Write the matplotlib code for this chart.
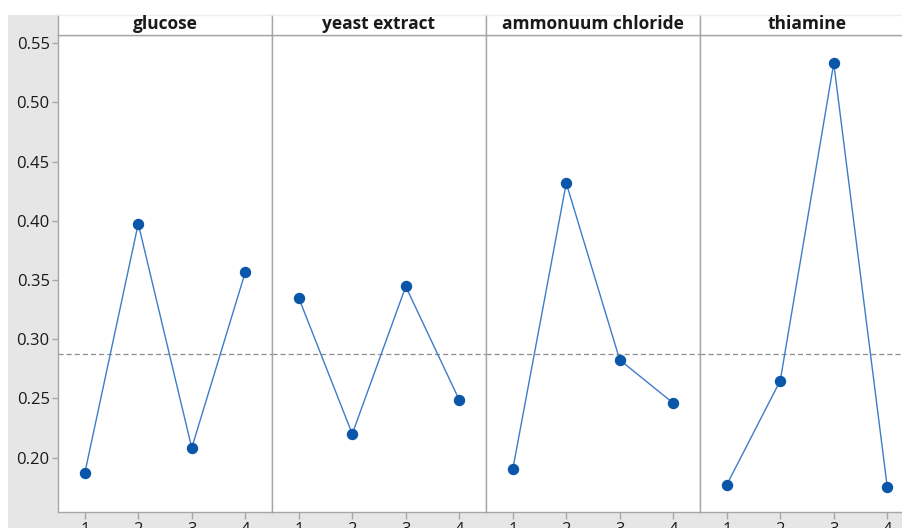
import matplotlib
matplotlib.use("Agg")
import matplotlib.pyplot as plt
from matplotlib.patches import Rectangle

factors = ["glucose", "yeast extract", "ammonuum chloride", "thiamine"]
levels = [1, 2, 3, 4]
glucose = [0.1868, 0.3975, 0.2082, 0.3565]
yeast_extract = [0.3349, 0.2200, 0.3445, 0.2487]
ammonium_chloride = [0.1901, 0.4318, 0.2825, 0.2460]
thiamine = [0.1770, 0.2650, 0.5330, 0.1752]
series = [glucose, yeast_extract, ammonium_chloride, thiamine]
grand_mean = 0.2873
y_ticks = [0.20, 0.25, 0.30, 0.35, 0.40, 0.45, 0.50, 0.55]

W, H = 903, 528
fig = plt.figure(figsize=(W / 100, H / 100), dpi=100)
fig.patch.set_facecolor("white")

FONT = ["Open Sans", "DejaVu Sans"]
GRID = "#a6a6a6"
TXT = "#1a1a1a"

# gray background region
fig.patches.append(Rectangle((8 / W, 0), 1, 1 - 15 / H, transform=fig.transFigure,
                             facecolor="#e6e6e6", edgecolor="none", zorder=-10))

left0 = 58
pw = 214
top_plot = 35
bot_plot = 512
head_top = 15

for i, (name, vals) in enumerate(zip(factors, series)):
    x0 = left0 + i * pw
    ax = fig.add_axes([x0 / W, (H - bot_plot) / H, pw / W, (bot_plot - top_plot) / H])
    ax.set_facecolor("white")
    ax.set_xlim(0.5, 4.5)
    ax.set_ylim(0.1541, 0.5568)
    ax.axhline(grand_mean, color="#8c8c8c", lw=0.9, ls=(0, (4, 2.5)), zorder=1)
    ax.plot(levels, vals, color="#3d7cc9", lw=1.0, zorder=2)
    ax.plot(levels, vals, "o", color="#0a56a8", ms=7.2, mec="#0a56a8", zorder=3)
    for s in ax.spines.values():
        s.set_color(GRID)
        s.set_linewidth(1.0)
    if i == len(factors) - 1:
        ax.spines["right"].set_visible(False)
    ax.set_xticks(levels)
    ax.set_xticklabels([str(v) for v in levels], fontfamily=FONT, fontsize=12, color=TXT)
    ax.tick_params(axis="x", length=5, width=1, color=GRID, pad=2)
    if i == 0:
        ax.set_yticks(y_ticks)
        ax.set_yticklabels([f"{v:.2f}" for v in y_ticks], fontfamily=FONT, fontsize=12, color=TXT)
        ax.tick_params(axis="y", length=4, width=1, color=GRID, pad=2)
    else:
        ax.set_yticks([])
    # header strip
    hax = fig.add_axes([x0 / W, (H - top_plot) / H, pw / W, (top_plot - head_top) / H])
    hax.set_facecolor("#ffffff")
    hax.set_xticks([]); hax.set_yticks([])
    for k, s in hax.spines.items():
        s.set_color(GRID if k != "top" else "#eeeeee")
        s.set_linewidth(1.0)
    if i == len(factors) - 1:
        hax.spines["right"].set_visible(False)
    hax.text(0.5, 0.55, name, ha="center", va="center", fontfamily=FONT,
             fontsize=12.5, fontweight="bold", color=TXT, transform=hax.transAxes)

fig.savefig("out.png", dpi=100, facecolor=fig.get_facecolor())
